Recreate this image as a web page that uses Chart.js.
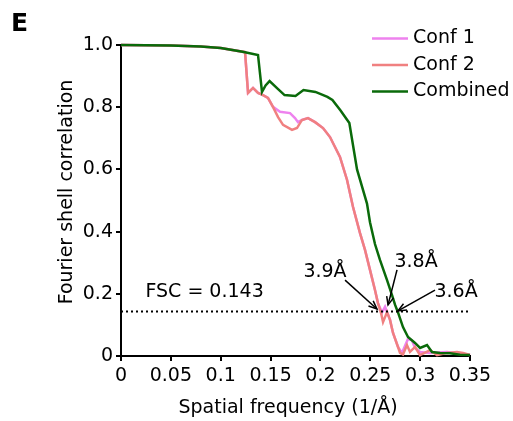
<!DOCTYPE html>
<html>
<head>
<meta charset="utf-8">
<script src="https://cdn.jsdelivr.net/npm/chart.js@4/dist/chart.umd.min.js"></script>
<style>
    html, body { margin: 0; padding: 0; background: #fff; }
</style>
</head>
<body>
<canvas id="fscChart" width="513" height="421"></canvas>
<script>
// values
const xTicks = [0, 0.05, 0.1, 0.15, 0.2, 0.25, 0.3, 0.35]
const xTickLabels = ["0", "0.05", "0.1", "0.15", "0.2", "0.25", "0.3", "0.35"]
const yTicks = [0, 0.2, 0.4, 0.6, 0.8, 1.0]
const yTickLabels = ["0", "0.2", "0.4", "0.6", "0.8", "1.0"]

const seriesNames = ["Conf 1", "Conf 2", "Combined"]

const conf1Freq = [0, 0.05, 0.08, 0.1, 0.1244, 0.1274, 0.1324, 0.1374, 0.1424, 0.1474, 0.1524, 0.1595, 0.1695, 0.1745, 0.1775, 0.1815, 0.1875, 0.1946, 0.2026, 0.2096, 0.2196, 0.2267, 0.2327, 0.2397, 0.2447, 0.2497, 0.2547, 0.2577, 0.2618, 0.2648, 0.2698, 0.2728, 0.2778, 0.2818, 0.2878, 0.2918, 0.2949, 0.2999, 0.3099, 0.3269, 0.337, 0.35]
const conf1Fsc = [1.0, 0.998, 0.995, 0.99, 0.977, 0.846, 0.862, 0.846, 0.839, 0.83, 0.801, 0.785, 0.781, 0.765, 0.752, 0.759, 0.765, 0.752, 0.733, 0.704, 0.64, 0.566, 0.479, 0.395, 0.341, 0.277, 0.212, 0.17, 0.14, 0.158, 0.116, 0.074, 0.029, 0.01, 0.055, 0.05, 0.026, 0.013, 0.01, 0.013, 0.008, 0.003]

const conf2Freq = [0, 0.05, 0.08, 0.1, 0.1244, 0.1274, 0.1324, 0.1374, 0.1424, 0.1474, 0.1524, 0.1575, 0.1625, 0.1715, 0.1765, 0.1815, 0.1875, 0.1946, 0.2026, 0.2096, 0.2196, 0.2267, 0.2327, 0.2397, 0.2447, 0.2497, 0.2547, 0.2577, 0.2608, 0.2628, 0.2668, 0.2698, 0.2728, 0.2778, 0.2798, 0.2828, 0.2868, 0.2898, 0.2949, 0.2999, 0.3099, 0.3169, 0.3269, 0.337, 0.343, 0.35]
const conf2Fsc = [1.0, 0.998, 0.995, 0.99, 0.977, 0.846, 0.862, 0.846, 0.839, 0.83, 0.801, 0.768, 0.743, 0.727, 0.733, 0.759, 0.765, 0.752, 0.733, 0.704, 0.64, 0.566, 0.479, 0.395, 0.341, 0.277, 0.212, 0.17, 0.138, 0.109, 0.141, 0.116, 0.074, 0.029, 0.01, 0.005, 0.035, 0.013, 0.029, 0.003, 0.019, 0.003, 0.01, 0.013, 0.01, 0.003]

const combinedFreq = [0, 0.05, 0.08, 0.1, 0.122, 0.1374, 0.1414, 0.145, 0.149, 0.157, 0.164, 0.175, 0.183, 0.195, 0.207, 0.212, 0.22, 0.229, 0.2367, 0.2467, 0.2497, 0.2547, 0.2597, 0.2668, 0.2718, 0.2748, 0.2778, 0.2828, 0.2878, 0.2949, 0.2999, 0.3069, 0.3119, 0.32, 0.33, 0.34, 0.35]
const combinedFsc = [1.0, 0.998, 0.995, 0.99, 0.978, 0.968, 0.849, 0.87, 0.884, 0.86, 0.839, 0.836, 0.855, 0.849, 0.833, 0.823, 0.79, 0.749, 0.6, 0.49, 0.43, 0.36, 0.309, 0.244, 0.196, 0.165, 0.14, 0.093, 0.061, 0.042, 0.026, 0.035, 0.013, 0.01, 0.009, 0.004, 0.003]

const fscCutoff = 0.143
const resolutionLabels = ["3.9Å", "3.8Å", "3.6Å"]

const FONT = "'DejaVu Sans', 'Liberation Sans', sans-serif"
const colors = ["#ee82ee", "#f08080", "#0a6a0a"]

const toPoints = (xs, ys) => xs.map((x, i) => ({ x, y: ys[i] }))

// arrows: text centre, arrow tail and tip, all in data units
const notes = [
    { text: [0.2046, 0.27], tail: [0.2247, 0.244], tip: [0.2567, 0.151] },
    { text: [0.2959, 0.302], tail: [0.2768, 0.277], tip: [0.2678, 0.164] },
    { text: [0.3360, 0.206], tail: [0.3149, 0.212], tip: [0.2778, 0.145] },
]

const extrasPlugin = {
    id: "extras",
    afterDatasetsDraw(chart) {
        const { ctx, scales } = chart
        const px = (v) => scales.x.getPixelForValue(v)
        const py = (v) => scales.y.getPixelForValue(v)
        ctx.save()
        ctx.fillStyle = "#000"
        ctx.strokeStyle = "#000"

        // panel letter
        ctx.font = "bold 25px " + FONT
        ctx.textAlign = "left"
        ctx.textBaseline = "middle"
        ctx.fillText("E", 11, 24)

        // axis titles (sit a little off centre in the original)
        ctx.font = "19px " + FONT
        ctx.textAlign = "center"
        ctx.fillText("Spatial frequency (1/Å)", 288, 408)
        ctx.save()
        ctx.translate(67, 192)
        ctx.rotate(-Math.PI / 2)
        ctx.fillText("Fourier shell correlation", 0, 0)
        ctx.restore()

        // cutoff label
        ctx.textAlign = "left"
        ctx.fillText("FSC = " + fscCutoff, px(0.0245), py(0.205))

        // resolution arrows
        ctx.textAlign = "center"
        ctx.lineWidth = 1.5
        notes.forEach((n, i) => {
            ctx.fillText(resolutionLabels[i], px(n.text[0]), py(n.text[1]))
            const x0 = px(n.tail[0]), y0 = py(n.tail[1])
            const x1 = px(n.tip[0]), y1 = py(n.tip[1])
            const a = Math.atan2(y1 - y0, x1 - x0)
            ctx.beginPath()
            ctx.moveTo(x0, y0)
            ctx.lineTo(x1, y1)
            ctx.stroke()
            ctx.beginPath()
            ctx.moveTo(x1 - 9 * Math.cos(a - 0.4), y1 - 9 * Math.sin(a - 0.4))
            ctx.lineTo(x1, y1)
            ctx.lineTo(x1 - 9 * Math.cos(a + 0.4), y1 - 9 * Math.sin(a + 0.4))
            ctx.stroke()
        })

        // legend in the upper right corner
        ctx.textAlign = "left"
        ctx.lineWidth = 2.5
        seriesNames.forEach((name, i) => {
            const y = 38.5 + i * 26.5
            ctx.strokeStyle = colors[i]
            ctx.beginPath()
            ctx.moveTo(372, y)
            ctx.lineTo(408, y)
            ctx.stroke()
            ctx.fillText(name, 413, y)
        })
        ctx.restore()
    },
}

const lineSet = (label, data, color, order) => ({
    label,
    data,
    borderColor: color,
    borderWidth: 2.5,
    pointRadius: 0,
    tension: 0,
    clip: false,
    order,
})

new Chart(document.getElementById("fscChart"), {
    type: "line",
    data: {
        datasets: [
            lineSet(seriesNames[0], toPoints(conf1Freq, conf1Fsc), colors[0], 3),
            lineSet(seriesNames[1], toPoints(conf2Freq, conf2Fsc), colors[1], 2),
            lineSet(seriesNames[2], toPoints(combinedFreq, combinedFsc), colors[2], 1),
            {
                label: "cutoff",
                data: [{ x: 0, y: fscCutoff }, { x: 0.35, y: fscCutoff }],
                borderColor: "#000",
                borderWidth: 2,
                borderDash: [2, 3],
                pointRadius: 0,
                order: 0,
            },
        ],
    },
    plugins: [extrasPlugin],
    options: {
        responsive: false,
        animation: false,
        devicePixelRatio: 1,
        layout: { padding: { left: 56, right: 43, top: 45, bottom: 2 } },
        plugins: { legend: { display: false }, tooltip: { enabled: false } },
        scales: {
            x: {
                type: "linear",
                min: 0,
                max: 0.35,
                afterBuildTicks: (axis) => { axis.ticks = xTicks.map((value) => ({ value })) },
                afterFit: (axis) => { axis.height = 63 },
                ticks: {
                    color: "#000",
                    font: { family: FONT, size: 19 },
                    padding: 4,
                    maxRotation: 0,
                    autoSkip: false,
                    callback: (v, i) => xTickLabels[i],
                },
                grid: { drawOnChartArea: false, drawTicks: true, tickLength: 5, color: "#000", lineWidth: 2 },
                border: { display: true, color: "#000", width: 2 },
            },
            y: {
                type: "linear",
                min: 0,
                max: 1,
                afterBuildTicks: (axis) => { axis.ticks = yTicks.map((value) => ({ value })) },
                afterFit: (axis) => { axis.width = 65 },
                ticks: {
                    color: "#000",
                    font: { family: FONT, size: 19 },
                    padding: 3,
                    autoSkip: false,
                    callback: (v, i) => yTickLabels[i],
                },
                grid: { drawOnChartArea: false, drawTicks: true, tickLength: 5, color: "#000", lineWidth: 2 },
                border: { display: true, color: "#000", width: 2 },
            },
        },
    },
})
</script>
</body>
</html>
